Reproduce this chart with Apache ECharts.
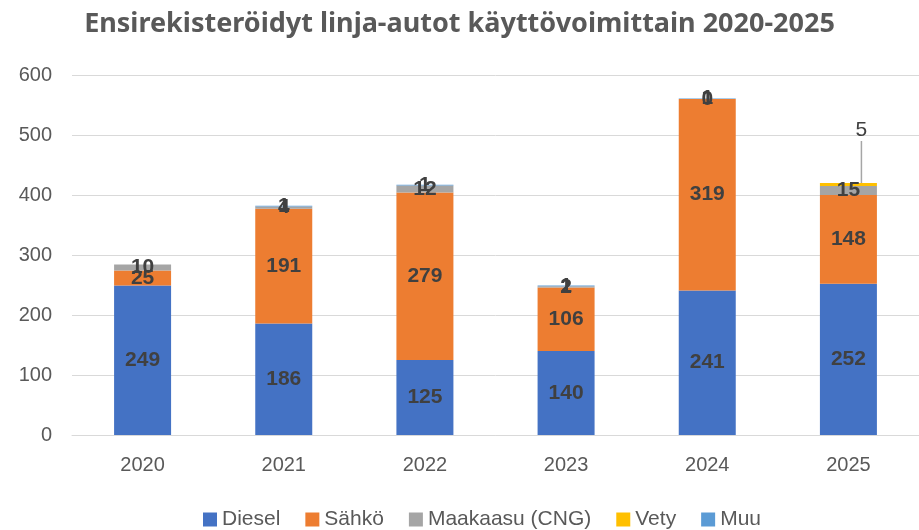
<!DOCTYPE html>
<html>
<head>
<meta charset="utf-8">
<script src="https://cdn.jsdelivr.net/npm/echarts@6/dist/echarts.min.js"></script>
<style>
  html, body { margin: 0; padding: 0; background: #fff; }
  #myChart { width: 919px; height: 530px; }
</style>
</head>
<body>
<div id="myChart"></div>
<script>
// vuodet
const years = ['2020', '2021', '2022', '2023', '2024', '2025'];
// käyttövoimat (null = ei tarraa kuvassa)
const diesel = [249, 186, 125, 140, 241, 252];
const sahko = [25, 191, 279, 106, 319, 148];
const cng = [10, 4, 12, 2, 0, 15];
const vety = [null, null, null, null, null, 5];
const muu = [null, 1, 1, 1, 1, null];
const yTicks = [0, 100, 200, 300, 400, 500, 600];

const font = 'Liberation Sans';
const inLabel = {
  show: true,
  position: 'inside',
  fontFamily: font,
  fontWeight: 'bold',
  fontSize: 21,
  color: '#404040'
};

const mkSeries = (name, data, color, extra) => Object.assign({
  name: name,
  type: 'bar',
  stack: 'all',
  data: data,
  barWidth: 57,
  itemStyle: { color: color },
  label: inLabel
}, extra || {});

const chart = echarts.init(document.getElementById('myChart'));
chart.setOption({
  animation: false,
  title: {
    text: 'Ensirekisteröidyt linja-autot käyttövoimittain 2020-2025',
    left: 'center',
    top: 6,
    textStyle: { fontFamily: 'Noto Sans', fontWeight: 'bold', fontSize: 27, color: '#595959' }
  },
  grid: { left: 72, right: -10, top: 75, bottom: 95 },
  legend: {
    bottom: -5,
    left: 198,
    itemWidth: 14,
    itemHeight: 14,
    itemGap: 25,
    icon: 'rect',
    textStyle: { fontFamily: font, fontSize: 21, color: '#595959' }
  },
  xAxis: {
    type: 'category',
    data: years,
    axisTick: { show: false },
    axisLine: { lineStyle: { color: '#d9d9d9', width: 1 } },
    axisLabel: { fontFamily: font, fontSize: 20, color: '#595959', margin: 20 }
  },
  yAxis: {
    type: 'value',
    min: yTicks[0],
    max: yTicks[yTicks.length - 1],
    interval: 100,
    axisLabel: { fontFamily: font, fontSize: 20, color: '#595959', margin: 20 },
    splitLine: { lineStyle: { color: '#d9d9d9', width: 1 } }
  },
  series: [
    mkSeries('Diesel', diesel, '#4472C4'),
    mkSeries('Sähkö', sahko, '#ED7D31'),
    mkSeries('Maakaasu (CNG)', cng, '#A5A5A5'),
    mkSeries('Vety', vety, '#FFC000', {
      label: {
        show: true,
        position: 'inside',
        fontFamily: font,
        fontSize: 21,
        color: '#404040'
      },
      labelLayout: { dx: 13, dy: -54 },
      labelLine: { show: true, length2: 0, lineStyle: { color: '#a6a6a6', width: 1.5 } }
    }),
    mkSeries('Muu', muu, '#5B9BD5')
  ]
});
</script>
</body>
</html>
